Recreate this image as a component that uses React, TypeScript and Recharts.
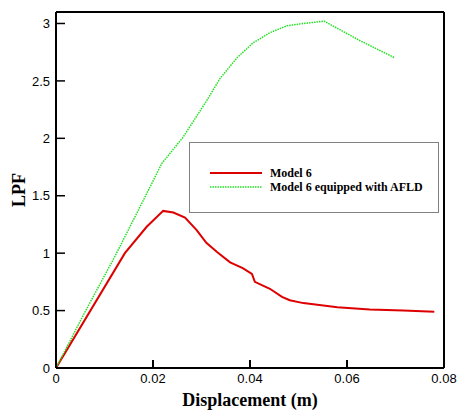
import { LineChart, Line, XAxis, YAxis, Legend, Label, ReferenceLine } from "recharts";

// Model 6 (red, solid)
const model6X = [0, 0.0142, 0.0187, 0.0221, 0.0242, 0.0266, 0.029, 0.031, 0.0332, 0.0359, 0.0385, 0.0404, 0.041, 0.0441, 0.0466, 0.0482, 0.051, 0.058, 0.0647, 0.0716, 0.078];
const model6Y = [0, 1.0, 1.23, 1.368, 1.354, 1.31, 1.2, 1.09, 1.01, 0.92, 0.87, 0.82, 0.75, 0.69, 0.62, 0.59, 0.565, 0.53, 0.51, 0.5, 0.49];

// Model 6 equipped with AFLD (green, dotted)
const afldX = [0, 0.006, 0.012, 0.018, 0.0218, 0.0262, 0.0311, 0.0338, 0.0373, 0.0406, 0.0441, 0.0476, 0.051, 0.0553, 0.0627, 0.0699];
const afldY = [0, 0.49, 0.96, 1.46, 1.78, 2.01, 2.33, 2.52, 2.7, 2.83, 2.92, 2.98, 3.0, 3.02, 2.85, 2.7];

const xMajorTicks = [0, 0.02, 0.04, 0.06, 0.08];
const xMinorTicks = [0.004, 0.008, 0.012, 0.016, 0.024, 0.028, 0.032, 0.036, 0.044, 0.048, 0.052, 0.056, 0.064, 0.068, 0.072, 0.076];
const yTicks = [0, 0.5, 1, 1.5, 2, 2.5, 3];
const X_MAX = 0.08;
const Y_MAX = 3.1;

const SERIES = [
  { name: "Model 6", color: "#dd0000", dash: undefined as string | undefined, width: 2 },
  { name: "Model 6 equipped with AFLD", color: "#22e022", dash: "1.5 1", width: 1.5 },
];

const model6Data = model6X.map((x, i) => ({ x, y: model6Y[i] }));
const afldData = afldX.map((x, i) => ({ x, y: afldY[i] }));

const tickFont = { fontFamily: "'Liberation Sans', Arial, sans-serif", fontSize: 13, fill: "#000" };
const labelFont = { fontFamily: "'Liberation Serif', 'Times New Roman', serif", fontWeight: "bold" as const, fontSize: 18, fill: "#000" };

function YLabel(props: any) {
  const { viewBox } = props;
  const cy = viewBox.y + viewBox.height / 2;
  return (
    <text x={25} y={cy} transform={`rotate(-90, 25, ${cy})`} textAnchor="middle" {...labelFont}>
      LPF
    </text>
  );
}

// legend drawn as a small svg so row positions are exact
function LegendBox() {
  return (
    <svg width={250} height={71} style={{ display: "block" }}>
      <rect x={0.5} y={0.5} width={249} height={70} fill="#fff" stroke="#808080" strokeWidth={1} />
      {SERIES.map((s, i) => {
        const cy = 31 + i * 14;
        return (
          <g key={s.name}>
            <line x1={21} x2={73} y1={cy} y2={cy} stroke={s.color} strokeWidth={s.width} strokeDasharray={s.dash} />
            <text
              x={81}
              y={cy + 4}
              fontFamily="'Liberation Serif', 'Times New Roman', serif"
              fontWeight="bold"
              fontSize={12}
              fill="#000"
            >
              {s.name}
            </text>
          </g>
        );
      })}
    </svg>
  );
}

export default function App() {
  return (
    <div style={{ position: "absolute", left: 0, top: 0, background: "#fff" }}>
      <LineChart width={457} height={412} margin={{ top: 12, right: 13, left: 0, bottom: 0 }}>
        <XAxis
          xAxisId="minor"
          type="number"
          domain={[0, X_MAX]}
          ticks={xMinorTicks}
          interval={0}
          height={0}
          tickSize={-5}
          tick={() => <g />}
          tickLine={{ stroke: "#777", strokeWidth: 1 }}
          axisLine={false}
        />
        <XAxis
          dataKey="x"
          type="number"
          domain={[0, X_MAX]}
          ticks={xMajorTicks}
          interval={0}
          height={44}
          tickSize={-8}
          tickMargin={14}
          tick={tickFont}
          tickLine={{ stroke: "#000", strokeWidth: 2 }}
          axisLine={{ stroke: "#000", strokeWidth: 2 }}
          allowDataOverflow
        >
          <Label value="Displacement (m)" position="insideBottom" offset={6} {...labelFont} />
        </XAxis>
        <YAxis
          type="number"
          domain={[0, Y_MAX]}
          ticks={yTicks}
          interval={0}
          width={56}
          tickSize={-9}
          tickMargin={15}
          tick={tickFont}
          tickLine={{ stroke: "#000", strokeWidth: 1.5 }}
          axisLine={{ stroke: "#000", strokeWidth: 2 }}
          allowDataOverflow
        >
          <Label content={<YLabel />} />
        </YAxis>
        <ReferenceLine y={Y_MAX} stroke="#000" strokeWidth={2} />
        <ReferenceLine x={X_MAX} stroke="#000" strokeWidth={2} />
        <Legend
          layout="vertical"
          verticalAlign="middle"
          align="center"
          content={<LegendBox />}
          wrapperStyle={{ left: 189, top: 142, width: 250, height: 71 }}
        />
        <Line
          data={model6Data}
          dataKey="y"
          name={SERIES[0].name}
          type="linear"
          stroke={SERIES[0].color}
          strokeWidth={SERIES[0].width}
          dot={false}
          activeDot={false}
          isAnimationActive={false}
        />
        <Line
          data={afldData}
          dataKey="y"
          name={SERIES[1].name}
          type="linear"
          stroke={SERIES[1].color}
          strokeWidth={SERIES[1].width}
          strokeDasharray={SERIES[1].dash}
          dot={false}
          activeDot={false}
          isAnimationActive={false}
        />
      </LineChart>
    </div>
  );
}
